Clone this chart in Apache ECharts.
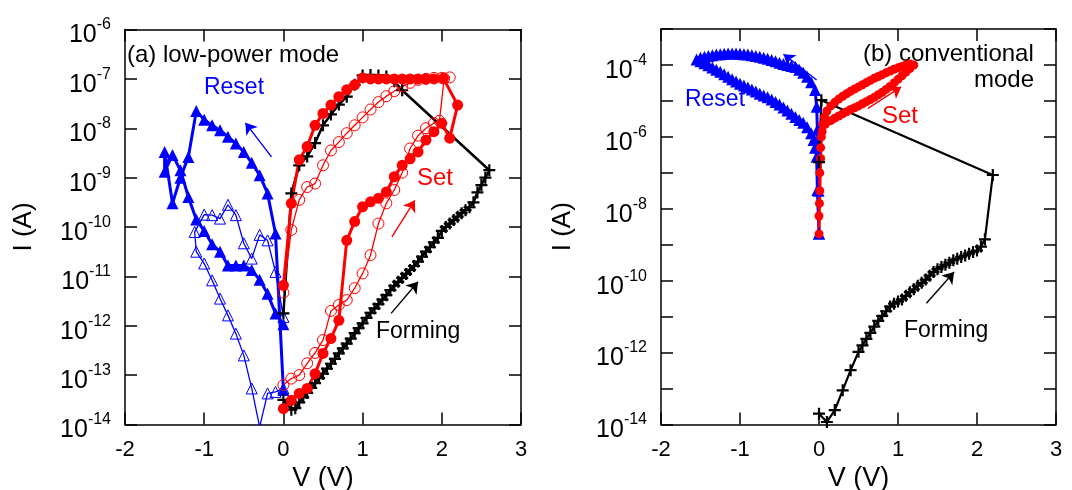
<!DOCTYPE html>
<html><head><meta charset="utf-8">
<script src="https://cdn.jsdelivr.net/npm/echarts@6/dist/echarts.min.js"></script>
<style>html,body{margin:0;padding:0;background:#fff}#c{width:1072px;height:490px}</style>
</head><body><div id="c"></div>
<script>
// ---------- Panel (a) low-power mode: V (volts) and log10 I (A) ----------
const aFormV = [0.00,0.10,0.15,0.20,0.25,0.30,0.35,0.40,0.45,0.50,0.55,0.60,0.65,0.70,0.75,0.80,0.85,0.90,0.95,1.00,1.05,1.10,1.15,1.20,1.25,1.30,1.35,1.40,1.45,1.50,1.55,1.60,1.65,1.70,1.75,1.80,1.85,1.90,1.95,2.00,2.05,2.10,2.15,2.20,2.25,2.30,2.35,2.40,2.45,2.50,2.55,2.60,
                1.50,1.40,1.30,1.20,1.10,1.00,0.90,0.80,0.70,0.60,0.50,0.40,0.30,0.20,0.10,0.00];
const aFormL = [-13.50,-13.70,-13.67,-13.55,-13.45,-13.36,-13.26,-13.16,-13.06,-12.97,-12.87,-12.77,-12.67,-12.56,-12.46,-12.36,-12.26,-12.15,-12.05,-11.95,-11.84,-11.74,-11.65,-11.56,-11.47,-11.38,-11.28,-11.19,-11.11,-11.03,-10.95,-10.87,-10.79,-10.70,-10.60,-10.50,-10.41,-10.31,-10.22,-10.08,-10.00,-9.93,-9.86,-9.79,-9.72,-9.66,-9.60,-9.50,-9.30,-9.15,-9.00,-8.85,
                -7.23,-7.05,-6.95,-6.93,-6.92,-6.93,-7.12,-7.36,-7.52,-7.72,-7.94,-8.30,-8.57,-8.75,-9.32,-11.75];

const aSetV = [0.0,0.1,0.2,0.3,0.4,0.5,0.6,0.7,0.8,0.9,1.0,1.1,1.2,1.3,1.4,1.5,1.6,1.7,1.8,1.9,2.0,2.1,2.2,
               2.02,1.9,1.8,1.7,1.6,1.5,1.4,1.3,1.2,1.1,1.0,0.9,0.8,0.7,0.6,0.5,0.4,0.3,0.2,0.1,0.0];
const aSetL = [-13.68,-13.51,-13.37,-13.27,-12.97,-12.56,-12.26,-11.89,-10.27,-9.89,-9.59,-9.49,-9.42,-9.29,-8.98,-8.75,-8.62,-8.48,-8.24,-8.07,-7.90,-8.20,-7.53,
               -6.99,-7.00,-7.00,-7.00,-7.00,-7.00,-7.00,-7.00,-7.00,-7.00,-6.98,-7.12,-7.22,-7.36,-7.53,-7.70,-7.94,-8.37,-8.64,-9.52,-11.18];

const aSet2V = [0.0,0.1,0.2,0.3,0.4,0.5,0.6,0.7,0.8,0.9,1.0,1.1,1.2,1.3,1.4,1.5,1.6,1.7,1.8,1.9,1.97,2.03,2.1,
                2.0,1.9,1.8,1.7,1.6,1.5,1.4,1.3,1.2,1.1,1.0,0.9,0.8,0.7,0.6,0.5,0.4,0.3,0.2,0.1,0.0];
const aSet2L = [-13.20,-13.07,-13.00,-12.76,-12.55,-12.29,-11.70,-11.58,-11.48,-11.24,-10.94,-10.57,-9.93,-9.52,-9.25,-8.90,-8.41,-8.15,-8.00,-7.90,-7.85,-6.99,-6.97,
                -6.98,-6.98,-7.00,-7.02,-7.08,-7.15,-7.25,-7.35,-7.47,-7.62,-7.78,-7.94,-8.10,-8.28,-8.45,-8.75,-9.12,-9.19,-9.45,-10.06,-11.33];

const aResetV = [0.0,-0.1,-0.2,-0.3,-0.4,-0.5,-0.6,-0.7,-0.8,-0.9,-1.0,-1.1,-1.2,-1.3,-1.4,-1.5,
                 -1.5,-1.4,-1.3,-1.2,-1.1,-1.0,-0.9,-0.8,-0.7,-0.6,-0.5,-0.4,-0.3,-0.2,-0.1,0.0];
const aResetL = [-13.30,-10.13,-9.32,-8.95,-8.70,-8.48,-8.31,-8.17,-8.04,-7.94,-7.83,-7.65,-8.58,-9.00,-9.52,-8.48,
                 -8.88,-8.54,-8.85,-9.39,-9.85,-10.08,-10.35,-10.50,-10.78,-10.78,-10.78,-10.87,-11.07,-11.35,-11.75,-11.97];

const aReset2V = [0.0,-0.1,-0.2,-0.3,-0.4,-0.5,-0.6,-0.7,-0.8,-0.9,-1.0,-1.1,
                  -1.12,-1.0,-0.9,-0.8,-0.7,-0.6,-0.5,-0.4,-0.3,-0.2,-0.1,0.0];
const aReset2L = [-13.27,-13.34,-13.37,-14.05,-13.27,-12.60,-12.16,-11.79,-11.45,-11.08,-10.74,-10.50,
                  -10.10,-9.75,-9.76,-9.83,-9.55,-9.76,-10.33,-10.64,-10.16,-10.27,-10.91,-11.82];

// ---------- Panel (b) conventional mode ----------
const bFormV = [0.00,0.10,0.20,0.30,0.40,0.50,0.55,0.60,0.65,0.70,0.75,0.80,0.85,0.90,0.95,1.00,1.05,1.10,1.15,1.20,1.25,1.30,1.35,1.40,1.45,1.50,1.55,1.60,1.65,1.70,1.75,1.80,1.85,1.90,1.95,2.00,2.05,2.10,2.20,0.03,0.00];
const bFormL = [-13.70,-13.93,-13.60,-13.05,-12.49,-11.98,-11.80,-11.62,-11.45,-11.28,-11.12,-10.98,-10.85,-10.72,-10.64,-10.58,-10.52,-10.42,-10.32,-10.24,-10.14,-10.06,-9.97,-9.86,-9.76,-9.68,-9.62,-9.56,-9.50,-9.43,-9.39,-9.34,-9.30,-9.25,-9.20,-9.16,-9.05,-8.85,-7.06,-4.98,-6.70];

const bSetV = [0.00,0.005,0.01,0.02,0.04,0.08,0.15,0.20,0.25,0.30,0.35,0.40,0.45,0.50,0.55,0.60,0.65,0.70,0.75,0.80,0.85,0.90,0.95,1.00,1.05,1.10,1.15,1.20,
               1.15,1.10,1.05,1.00,0.95,0.90,0.85,0.80,0.75,0.70,0.65,0.60,0.55,0.50,0.45,0.40,0.35,0.30,0.25,0.20,0.15,0.10,0.07,0.05,0.03,0.02,0.01,0.00];
const bSetL = [-8.70,-7.85,-7.00,-6.30,-5.85,-5.65,-5.55,-5.48,-5.42,-5.36,-5.30,-5.24,-5.19,-5.14,-5.08,-5.02,-4.96,-4.90,-4.83,-4.76,-4.68,-4.60,-4.50,-4.40,-4.30,-4.20,-4.10,-4.00,
               -3.97,-4.00,-4.04,-4.08,-4.12,-4.17,-4.22,-4.27,-4.32,-4.37,-4.43,-4.49,-4.55,-4.61,-4.67,-4.73,-4.80,-4.87,-4.95,-5.04,-5.14,-5.28,-5.45,-5.65,-6.00,-6.60,-7.50,-8.20];

const bResetV = [0.00,-0.005,-0.01,-0.02,-0.03,-0.05,-0.10,-0.15,-0.20,-0.25,-0.30,-0.35,-0.40,-0.45,-0.50,-0.55,-0.60,-0.65,-0.70,-0.75,-0.80,-0.85,-0.90,-0.95,-1.00,-1.05,-1.10,-1.15,-1.20,-1.25,-1.30,-1.35,-1.40,-1.45,-1.50,-1.55,
                 -1.50,-1.45,-1.40,-1.35,-1.30,-1.25,-1.20,-1.15,-1.10,-1.05,-1.00,-0.95,-0.90,-0.85,-0.80,-0.75,-0.70,-0.65,-0.60,-0.55,-0.50,-0.45,-0.40,-0.35,-0.30,-0.25,-0.20,-0.15,-0.10,-0.07,-0.05,-0.03,-0.02,0.00];
const bResetL = [-8.69,-7.50,-6.50,-5.80,-5.16,-4.70,-4.48,-4.33,-4.22,-4.13,-4.06,-4.03,-4.00,-3.97,-3.94,-3.90,-3.86,-3.83,-3.80,-3.77,-3.75,-3.73,-3.71,-3.70,-3.69,-3.68,-3.68,-3.68,-3.69,-3.70,-3.71,-3.73,-3.75,-3.77,-3.80,-3.85,
                 -3.90,-3.95,-4.01,-4.07,-4.13,-4.19,-4.26,-4.33,-4.40,-4.46,-4.52,-4.57,-4.63,-4.68,-4.74,-4.80,-4.85,-4.90,-4.96,-5.03,-5.10,-5.18,-5.27,-5.36,-5.45,-5.53,-5.61,-5.73,-5.90,-6.09,-6.30,-6.55,-7.48,-8.69];

// arrows: [x1, log10 y1, x2, log10 y2]
const aArrows = { reset: [-0.15,-8.58,-0.48,-7.89], set: [1.37,-10.20,1.66,-9.46], form: [1.36,-11.75,1.70,-11.11] };
const bArrows = { reset: [-0.03,-4.42,-0.45,-3.70], set: [0.62,-5.21,1.04,-4.61], form: [1.36,-10.63,1.71,-9.76] };

const FONT = '"Liberation Sans", Arial, Helvetica, sans-serif';
const BLUE = '#0000ff', RED = '#ff0000', BLACK = '#000000';
const PLUS = 'path://M0,5L10,5M5,0L5,10';

function pts(V, L) { return V.map((v, i) => [v, Math.pow(10, L[i])]); }
function arrow(a, color) {
  return {
    silent: true, symbol: ['none', 'arrow'], symbolSize: 11, animation: false,
    label: { show: false }, emphasis: { disabled: true },
    lineStyle: { color: color, width: 1.4, type: 'solid' },
    itemStyle: { color: color },
    data: [[{ coord: [a[0], Math.pow(10, a[1])] }, { coord: [a[2], Math.pow(10, a[3])] }]]
  };
}

function xAx(g, pos, main) {
  return {
    gridIndex: g, type: 'value', min: -2, max: 3, interval: 1, position: pos,
    axisLine: { onZero: false, lineStyle: { color: '#000', width: 1.5 } },
    axisTick: { inside: true, length: 12, lineStyle: { color: '#000', width: 1.5 } },
    axisLabel: { show: main, fontSize: 22, margin: 14, color: '#000', fontFamily: FONT },
    splitLine: { show: false },
    name: main ? 'V (V)' : '', nameLocation: 'middle', nameGap: 34,
    nameTextStyle: { fontSize: 27, color: '#000', fontFamily: FONT }
  };
}
function yAx(g, pos, main, maxE, evenOnly, gap) {
  return {
    gridIndex: g, type: 'log', logBase: 10, min: 1e-14, max: Math.pow(10, maxE),
    splitNumber: maxE + 14, interval: 1,
    position: pos,
    axisLine: { onZero: false, lineStyle: { color: '#000', width: 1.5 } },
    axisTick: { inside: true, length: 12, lineStyle: { color: '#000', width: 1.5 } },
    axisLabel: {
      show: main, margin: 14, showMinLabel: true, showMaxLabel: true, hideOverlap: false,
      formatter: function (val) {
        const e = Math.round(Math.log10(val));
        if (evenOnly && Math.abs(e) % 2 === 1) return '';
        return '{b|10}{s|' + e + '}';
      },
      rich: {
        b: { fontSize: 25, fontFamily: FONT, color: '#000', padding: [12, 0, 0, 0] },
        s: { fontSize: 16, fontFamily: FONT, color: '#000', verticalAlign: 'top', padding: [6, 0, 0, 0] }
      }
    },
    splitLine: { show: false },
    name: main ? 'I (A)' : '', nameLocation: 'middle', nameGap: gap,
    nameTextStyle: { fontSize: 26, color: '#000', fontFamily: FONT }
  };
}

function ser(data, xi, opts) {
  return Object.assign({
    type: 'line', xAxisIndex: xi, yAxisIndex: xi, data: data, animation: false,
    clip: true, showSymbol: true, emphasis: { disabled: true }
  }, opts);
}

const option = {
  animation: false,
  backgroundColor: '#fff',
  grid: [
    { left: 125, top: 29.5, width: 396, height: 395, outerBoundsMode: 'none', containLabel: false },
    { left: 661, top: 29, width: 395, height: 395.5, outerBoundsMode: 'none', containLabel: false }
  ],
  xAxis: [xAx(0, 'bottom', true), xAx(0, 'top', false), xAx(1, 'bottom', true), xAx(1, 'top', false)],
  yAxis: [yAx(0, 'left', true, -6, false, 88), yAx(0, 'right', false, -6, false, 0),
          yAx(1, 'left', true, -3, true, 85), yAx(1, 'right', false, -3, true, 0)],
  series: [
    // panel (a)
    ser(pts(aReset2V, aReset2L), 0, {
      symbol: 'triangle', symbolSize: 11,
      lineStyle: { color: BLUE, width: 1.3 },
      itemStyle: { color: 'rgba(0,0,0,0)', borderColor: BLUE, borderWidth: 1 }
    }),
    ser(pts(aResetV, aResetL), 0, {
      symbol: 'triangle', symbolSize: 12,
      lineStyle: { color: BLUE, width: 3 },
      itemStyle: { color: BLUE, borderWidth: 0 },
      markLine: arrow(aArrows.reset, BLUE)
    }),
    ser(pts(aFormV, aFormL), 0, {
      symbol: PLUS, symbolSize: 12,
      lineStyle: { color: BLACK, width: 2.5 },
      itemStyle: { color: BLACK, borderColor: BLACK, borderWidth: 2.2 },
      markLine: arrow(aArrows.form, BLACK)
    }),
    ser(pts(aSet2V, aSet2L), 0, {
      symbol: 'circle', symbolSize: 11,
      lineStyle: { color: RED, width: 1.3 },
      itemStyle: { color: 'rgba(0,0,0,0)', borderColor: RED, borderWidth: 1 }
    }),
    ser(pts(aSetV, aSetL), 0, {
      symbol: 'circle', symbolSize: 11,
      lineStyle: { color: RED, width: 3 },
      itemStyle: { color: RED, borderWidth: 0 },
      markLine: arrow(aArrows.set, RED)
    }),
    // panel (b)
    ser(pts(bResetV, bResetL), 2, {
      symbol: 'triangle', symbolSize: 12,
      lineStyle: { color: BLUE, width: 3 },
      itemStyle: { color: BLUE, borderWidth: 0 },
      markLine: arrow(bArrows.reset, BLUE)
    }),
    ser(pts(bSetV, bSetL), 2, {
      symbol: 'circle', symbolSize: 9,
      lineStyle: { color: RED, width: 3 },
      itemStyle: { color: RED, borderWidth: 0 },
      markLine: arrow(bArrows.set, RED)
    }),
    ser(pts(bFormV, bFormL), 2, {
      symbol: PLUS, symbolSize: 12,
      lineStyle: { color: BLACK, width: 2.2 },
      itemStyle: { color: BLACK, borderColor: BLACK, borderWidth: 2.2 },
      markLine: arrow(bArrows.form, BLACK)
    })
  ],
  graphic: [
    { type: 'text', x: 127, y: 55, style: { text: '(a) low-power mode', fill: '#000', fontSize: 24, fontFamily: FONT, align: 'left', verticalAlign: 'middle', textAlign: 'left', textVerticalAlign: 'middle' } },
    { type: 'text', x: 234, y: 88, style: { text: 'Reset', fill: BLUE, fontSize: 23, fontFamily: FONT, align: 'center', verticalAlign: 'middle', textAlign: 'center', textVerticalAlign: 'middle' } },
    { type: 'text', x: 435, y: 178, style: { text: 'Set', fill: RED, fontSize: 24, fontFamily: FONT, align: 'center', verticalAlign: 'middle', textAlign: 'center', textVerticalAlign: 'middle' } },
    { type: 'text', x: 376, y: 332, style: { text: 'Forming', fill: '#000', fontSize: 23, fontFamily: FONT, align: 'left', verticalAlign: 'middle', textAlign: 'left', textVerticalAlign: 'middle' } },
    { type: 'text', x: 863, y: 54, style: { text: '(b) conventional', fill: '#000', fontSize: 24, fontFamily: FONT, align: 'left', verticalAlign: 'middle', textAlign: 'left', textVerticalAlign: 'middle' } },
    { type: 'text', x: 1034, y: 80, style: { text: 'mode', fill: '#000', fontSize: 24, fontFamily: FONT, align: 'right', verticalAlign: 'middle', textAlign: 'right', textVerticalAlign: 'middle' } },
    { type: 'text', x: 715, y: 100, style: { text: 'Reset', fill: BLUE, fontSize: 23, fontFamily: FONT, align: 'center', verticalAlign: 'middle', textAlign: 'center', textVerticalAlign: 'middle' } },
    { type: 'text', x: 882, y: 116, style: { text: 'Set', fill: RED, fontSize: 24, fontFamily: FONT, align: 'left', verticalAlign: 'middle', textAlign: 'left', textVerticalAlign: 'middle' } },
    { type: 'text', x: 904, y: 331, style: { text: 'Forming', fill: '#000', fontSize: 23, fontFamily: FONT, align: 'left', verticalAlign: 'middle', textAlign: 'left', textVerticalAlign: 'middle' } }
  ]
};

const chart = echarts.init(document.getElementById('c'), null, { renderer: 'canvas' });
chart.setOption(option);
</script></body></html>
